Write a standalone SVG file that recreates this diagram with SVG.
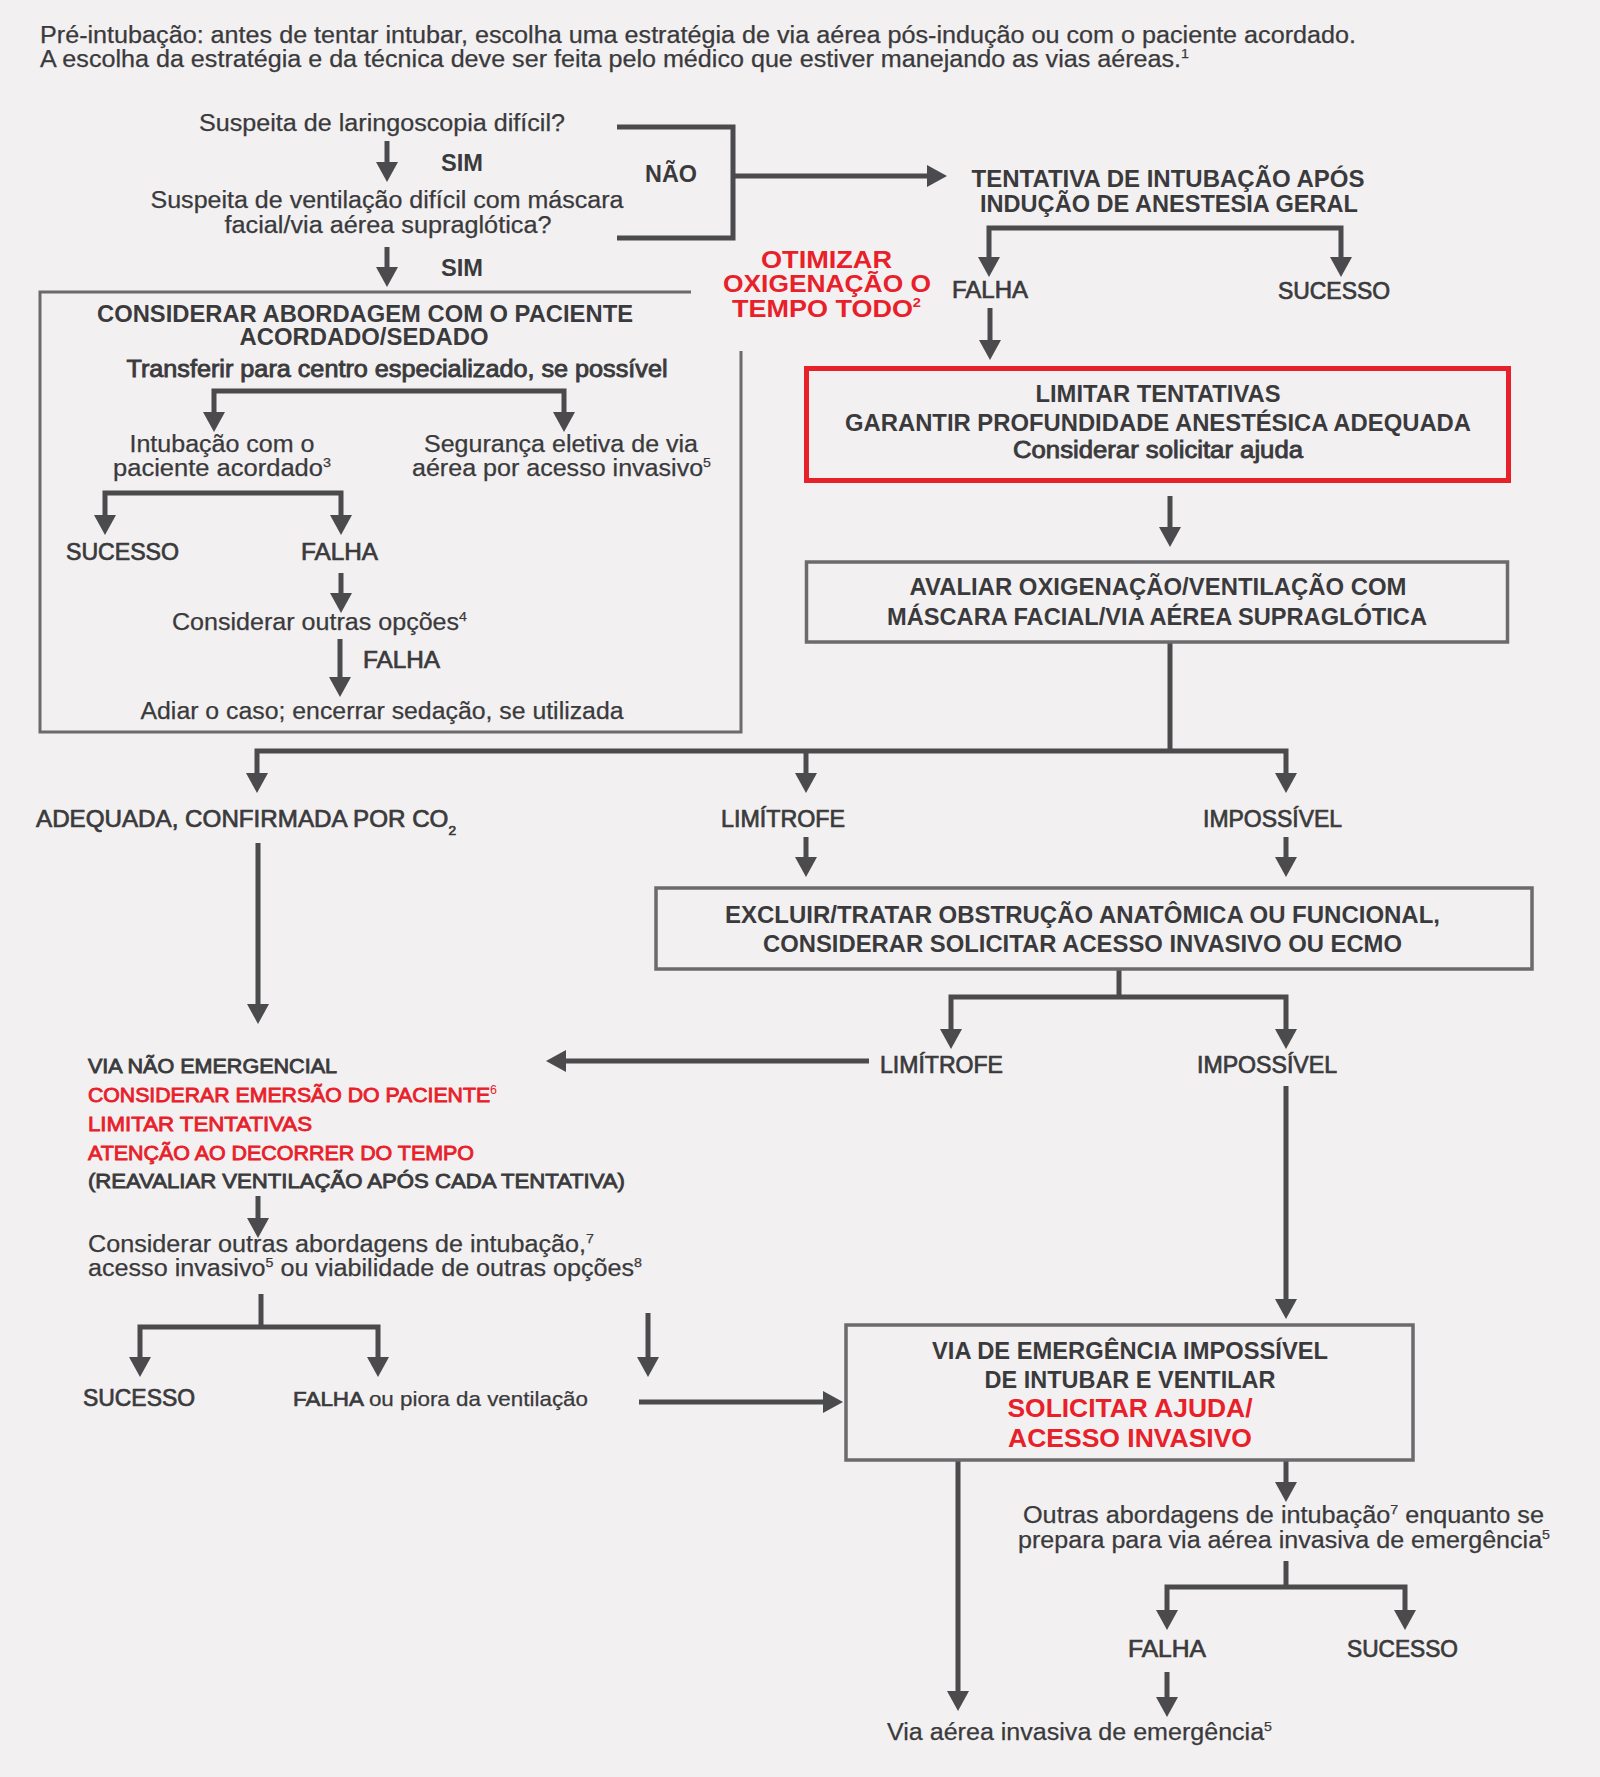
<svg xmlns="http://www.w3.org/2000/svg" width="1600" height="1777" viewBox="0 0 1600 1777">
<style>
.t{font-family:"Liberation Sans",Arial,sans-serif;font-size:23px;fill:#3a3a3c;stroke:#3a3a3c;stroke-width:0.25}
.c{text-anchor:middle}
.b{font-weight:bold;stroke-width:0}
.hb{font-size:23.5px;font-weight:bold;stroke-width:0}
.sb{stroke:#3a3a3c;stroke-width:0.85}
.md{stroke:#3a3a3c;stroke-width:0.7}
.red{fill:#e8202a;stroke:#e8202a}
.redsb{fill:#e8202a;stroke:#e8202a;stroke-width:0.85}
.sup{font-size:13px}
.ln{fill:none;stroke:#4b4b4d;stroke-width:5}
.ar{marker-end:url(#ah)}
.ar2{marker-start:url(#ah);marker-end:url(#ah)}
.box{fill:none;stroke:#6b6b6d;stroke-width:3.5}
.rbox{fill:none;stroke:#e8202a;stroke-width:5}
</style>
<defs>
<marker id="ah" markerUnits="userSpaceOnUse" markerWidth="20" markerHeight="22" viewBox="0 0 20 22" refX="3" refY="11" orient="auto-start-reverse"><path d="M0,0 L20,11 L0,22 z" fill="#4b4b4d"/></marker>
</defs>
<rect width="1600" height="1777" fill="#f2f0f1"/>

<g id="title">
<text class="t" x="40" y="43" textLength="1316" lengthAdjust="spacingAndGlyphs">Pré-intubação: antes de tentar intubar, escolha uma estratégia de via aérea pós-indução ou com o paciente acordado.</text>
<text class="t" x="40" y="67" textLength="1149" lengthAdjust="spacingAndGlyphs">A escolha da estratégia e da técnica deve ser feita pelo médico que estiver manejando as vias aéreas.<tspan class="sup" dy="-9">1</tspan></text>
</g>

<g id="connectors">
<path class="ln ar" d="M387,141 V165"/>
<path class="ln ar" d="M387,247 V270"/>
<path class="ln" d="M617,127 H733 V238 H617"/>
<path class="ln ar" d="M733,176 H930"/>
<path class="ln ar2" d="M989,260 V228 H1341 V260"/>
<path class="ln ar" d="M990,308 V343"/>
<path class="ln ar" d="M1170,496 V530"/>
<path class="ln" d="M1170,643 V751"/>
<path class="ln ar2" d="M257,776 V751 H1286 V776"/>
<path class="ln ar" d="M806,751 V776"/>
<path class="ln ar" d="M806,837 V860"/>
<path class="ln ar" d="M1286,837 V860"/>
<path class="ln ar" d="M258,843 V1007"/>
<path class="ln" d="M1119,970 V997"/>
<path class="ln ar2" d="M951,1032 V997 H1286 V1032"/>
<path class="ln ar" d="M869,1061 H563"/>
<path class="ln ar" d="M1286,1086 V1302"/>
<path class="ln ar" d="M258,1196 V1221"/>
<path class="ln" d="M261,1294 V1327"/>
<path class="ln ar2" d="M140,1360 V1327 H378 V1360"/>
<path class="ln ar" d="M648,1313 V1360"/>
<path class="ln ar" d="M639,1402 H826"/>
<path class="ln ar" d="M958,1461 V1694"/>
<path class="ln ar" d="M1286,1461 V1485"/>
<path class="ln" d="M1286,1561 V1587"/>
<path class="ln ar2" d="M1167,1613 V1587 H1405 V1613"/>
<path class="ln ar" d="M1167,1672 V1700"/>
<path class="ln ar2" d="M214,415 V391 H564 V415"/>
<path class="ln ar2" d="M105,518 V493 H341 V518"/>
<path class="ln ar" d="M341,573 V596"/>
<path class="ln ar" d="M340,639 V680"/>
</g>

<g id="q-laringoscopia">
<text class="t c" x="382" y="131" textLength="366" lengthAdjust="spacingAndGlyphs">Suspeita de laringoscopia difícil?</text>
</g>
<g id="lbl-sim1"><text class="t b" x="441" y="171" textLength="42" lengthAdjust="spacingAndGlyphs">SIM</text></g>
<g id="q-ventilacao">
<text class="t c" x="387" y="208" textLength="473" lengthAdjust="spacingAndGlyphs">Suspeita de ventilação difícil com máscara</text>
<text class="t c" x="388" y="233" textLength="327" lengthAdjust="spacingAndGlyphs">facial/via aérea supraglótica?</text>
</g>
<g id="lbl-sim2"><text class="t b" x="441" y="276" textLength="42" lengthAdjust="spacingAndGlyphs">SIM</text></g>
<g id="lbl-nao"><text class="t b" x="645" y="182" textLength="52" lengthAdjust="spacingAndGlyphs">NÃO</text></g>

<g id="n-tentativa">
<text class="t hb c" x="1168" y="187" textLength="393" lengthAdjust="spacingAndGlyphs">TENTATIVA DE INTUBAÇÃO APÓS</text>
<text class="t hb c" x="1169" y="212" textLength="378" lengthAdjust="spacingAndGlyphs">INDUÇÃO DE ANESTESIA GERAL</text>
</g>
<g id="lbl-falha1"><text class="t md" x="952" y="298" textLength="76" lengthAdjust="spacingAndGlyphs">FALHA</text></g>
<g id="lbl-sucesso1"><text class="t md" x="1278" y="299" textLength="112" lengthAdjust="spacingAndGlyphs">SUCESSO</text></g>

<g id="n-otimizar">
<text class="t b red c" style="font-size:24px" x="826.5" y="268" textLength="131" lengthAdjust="spacingAndGlyphs">OTIMIZAR</text>
<text class="t b red c" style="font-size:24px" x="827" y="292" textLength="208" lengthAdjust="spacingAndGlyphs">OXIGENAÇÃO O</text>
<text class="t b red c" style="font-size:24px" x="826.5" y="317" textLength="189" lengthAdjust="spacingAndGlyphs">TEMPO TODO<tspan class="sup" dy="-10">2</tspan></text>
</g>

<g id="n-acordado">
<path class="box" style="stroke-width:3" d="M691,292 H40 V732 H741 V351"/>
<text class="t hb c" x="365" y="322" textLength="536" lengthAdjust="spacingAndGlyphs">CONSIDERAR ABORDAGEM COM O PACIENTE</text>
<text class="t hb c" x="364" y="345" textLength="249" lengthAdjust="spacingAndGlyphs">ACORDADO/SEDADO</text>
<text class="t sb c" x="397" y="377" textLength="541" lengthAdjust="spacingAndGlyphs">Transferir para centro especializado, se possível</text>
<text class="t c" x="222" y="452" textLength="185" lengthAdjust="spacingAndGlyphs">Intubação com o</text>
<text class="t" x="113" y="476" textLength="218" lengthAdjust="spacingAndGlyphs">paciente acordado<tspan class="sup" dy="-9">3</tspan></text>
<text class="t c" x="561" y="452" textLength="274" lengthAdjust="spacingAndGlyphs">Segurança eletiva de via</text>
<text class="t" x="412" y="476" textLength="299" lengthAdjust="spacingAndGlyphs">aérea por acesso invasivo<tspan class="sup" dy="-9">5</tspan></text>
<text class="t md" x="66" y="560" textLength="113" lengthAdjust="spacingAndGlyphs">SUCESSO</text>
<text class="t md" x="301" y="560" textLength="77" lengthAdjust="spacingAndGlyphs">FALHA</text>
<text class="t" x="172" y="630" textLength="295" lengthAdjust="spacingAndGlyphs">Considerar outras opções<tspan class="sup" dy="-9">4</tspan></text>
<text class="t md" x="363" y="668" textLength="77" lengthAdjust="spacingAndGlyphs">FALHA</text>
<text class="t c" x="382" y="719" textLength="483" lengthAdjust="spacingAndGlyphs">Adiar o caso; encerrar sedação, se utilizada</text>
</g>

<g id="n-limitar">
<rect class="rbox" x="806.5" y="368.5" width="702" height="112"/>
<text class="t hb c" x="1158" y="402" textLength="245" lengthAdjust="spacingAndGlyphs">LIMITAR TENTATIVAS</text>
<text class="t hb c" x="1158" y="431" textLength="626" lengthAdjust="spacingAndGlyphs">GARANTIR PROFUNDIDADE ANESTÉSICA ADEQUADA</text>
<text class="t sb c" x="1158" y="458" textLength="290" lengthAdjust="spacingAndGlyphs">Considerar solicitar ajuda</text>
</g>

<g id="n-avaliar">
<rect class="box" x="806.5" y="562" width="701" height="80"/>
<text class="t hb c" x="1158" y="595" textLength="497" lengthAdjust="spacingAndGlyphs">AVALIAR OXIGENAÇÃO/VENTILAÇÃO COM</text>
<text class="t hb c" x="1157" y="625" textLength="540" lengthAdjust="spacingAndGlyphs">MÁSCARA FACIAL/VIA AÉREA SUPRAGLÓTICA</text>
</g>

<g id="lbl-adequada"><text class="t md" x="36" y="827" textLength="420" lengthAdjust="spacingAndGlyphs">ADEQUADA, CONFIRMADA POR CO<tspan class="sup" dy="8">2</tspan></text></g>
<g id="lbl-limitrofe1"><text class="t md" x="721" y="827" textLength="124" lengthAdjust="spacingAndGlyphs">LIMÍTROFE</text></g>
<g id="lbl-impossivel1"><text class="t md" x="1203" y="827" textLength="139" lengthAdjust="spacingAndGlyphs">IMPOSSÍVEL</text></g>

<g id="n-excluir">
<rect class="box" x="656" y="888" width="876" height="81"/>
<text class="t hb" x="725" y="923" textLength="715" lengthAdjust="spacingAndGlyphs">EXCLUIR/TRATAR OBSTRUÇÃO ANATÔMICA OU FUNCIONAL,</text>
<text class="t hb" x="763" y="952" textLength="639" lengthAdjust="spacingAndGlyphs">CONSIDERAR SOLICITAR ACESSO INVASIVO OU ECMO</text>
</g>

<g id="lbl-limitrofe2"><text class="t md" x="880" y="1073" textLength="123" lengthAdjust="spacingAndGlyphs">LIMÍTROFE</text></g>
<g id="lbl-impossivel2"><text class="t md" x="1197" y="1073" textLength="140" lengthAdjust="spacingAndGlyphs">IMPOSSÍVEL</text></g>

<g id="n-nao-emergencial">
<text class="t sb" style="font-size:20.5px" x="88" y="1073" textLength="249" lengthAdjust="spacingAndGlyphs">VIA NÃO EMERGENCIAL</text>
<text class="t redsb" style="font-size:20.5px" x="88" y="1102" textLength="409" lengthAdjust="spacingAndGlyphs">CONSIDERAR EMERSÃO DO PACIENTE<tspan class="sup" style="font-size:12px;stroke-width:0" dy="-8">6</tspan></text>
<text class="t redsb" style="font-size:20.5px" x="88" y="1131" textLength="224" lengthAdjust="spacingAndGlyphs">LIMITAR TENTATIVAS</text>
<text class="t redsb" style="font-size:20.5px" x="88" y="1160" textLength="386" lengthAdjust="spacingAndGlyphs">ATENÇÃO AO DECORRER DO TEMPO</text>
<text class="t sb" style="font-size:20.5px" x="88" y="1188" textLength="537" lengthAdjust="spacingAndGlyphs">(REAVALIAR VENTILAÇÃO APÓS CADA TENTATIVA)</text>
</g>

<g id="n-outras-abordagens">
<text class="t" x="88" y="1252" textLength="506" lengthAdjust="spacingAndGlyphs">Considerar outras abordagens de intubação,<tspan class="sup" dy="-9">7</tspan></text>
<text class="t" x="88" y="1276" textLength="554" lengthAdjust="spacingAndGlyphs">acesso invasivo<tspan class="sup" dy="-9">5</tspan><tspan dy="9"> ou viabilidade de outras opções</tspan><tspan class="sup" dy="-9">8</tspan></text>
</g>
<g id="lbl-sucesso3"><text class="t md" x="83" y="1406" textLength="112" lengthAdjust="spacingAndGlyphs">SUCESSO</text></g>
<g id="lbl-falha-piora"><text class="t" style="font-size:21px" x="293" y="1406" textLength="295" lengthAdjust="spacingAndGlyphs"><tspan class="md">FALHA</tspan> ou piora da ventilação</text></g>

<g id="n-emergencia">
<rect class="box" x="846" y="1325" width="567" height="135"/>
<text class="t hb c" x="1130" y="1359" textLength="396" lengthAdjust="spacingAndGlyphs">VIA DE EMERGÊNCIA IMPOSSÍVEL</text>
<text class="t hb c" x="1130" y="1388" textLength="291" lengthAdjust="spacingAndGlyphs">DE INTUBAR E VENTILAR</text>
<text class="t b red c" style="font-size:26px" x="1130" y="1417" textLength="245" lengthAdjust="spacingAndGlyphs">SOLICITAR AJUDA/</text>
<text class="t b red c" style="font-size:26px" x="1130" y="1447" textLength="244" lengthAdjust="spacingAndGlyphs">ACESSO INVASIVO</text>
</g>

<g id="n-outras-emergencia">
<text class="t" x="1023" y="1523" textLength="521" lengthAdjust="spacingAndGlyphs">Outras abordagens de intubação<tspan class="sup" dy="-9">7</tspan><tspan dy="9"> enquanto se</tspan></text>
<text class="t" x="1018" y="1548" textLength="532" lengthAdjust="spacingAndGlyphs">prepara para via aérea invasiva de emergência<tspan class="sup" dy="-9">5</tspan></text>
</g>
<g id="lbl-falha4"><text class="t md" x="1128" y="1657" textLength="78" lengthAdjust="spacingAndGlyphs">FALHA</text></g>
<g id="lbl-sucesso4"><text class="t md" x="1347" y="1657" textLength="111" lengthAdjust="spacingAndGlyphs">SUCESSO</text></g>

<g id="n-via-invasiva">
<text class="t" x="887" y="1740" textLength="385" lengthAdjust="spacingAndGlyphs">Via aérea invasiva de emergência<tspan class="sup" dy="-9">5</tspan></text>
</g>
</svg>
